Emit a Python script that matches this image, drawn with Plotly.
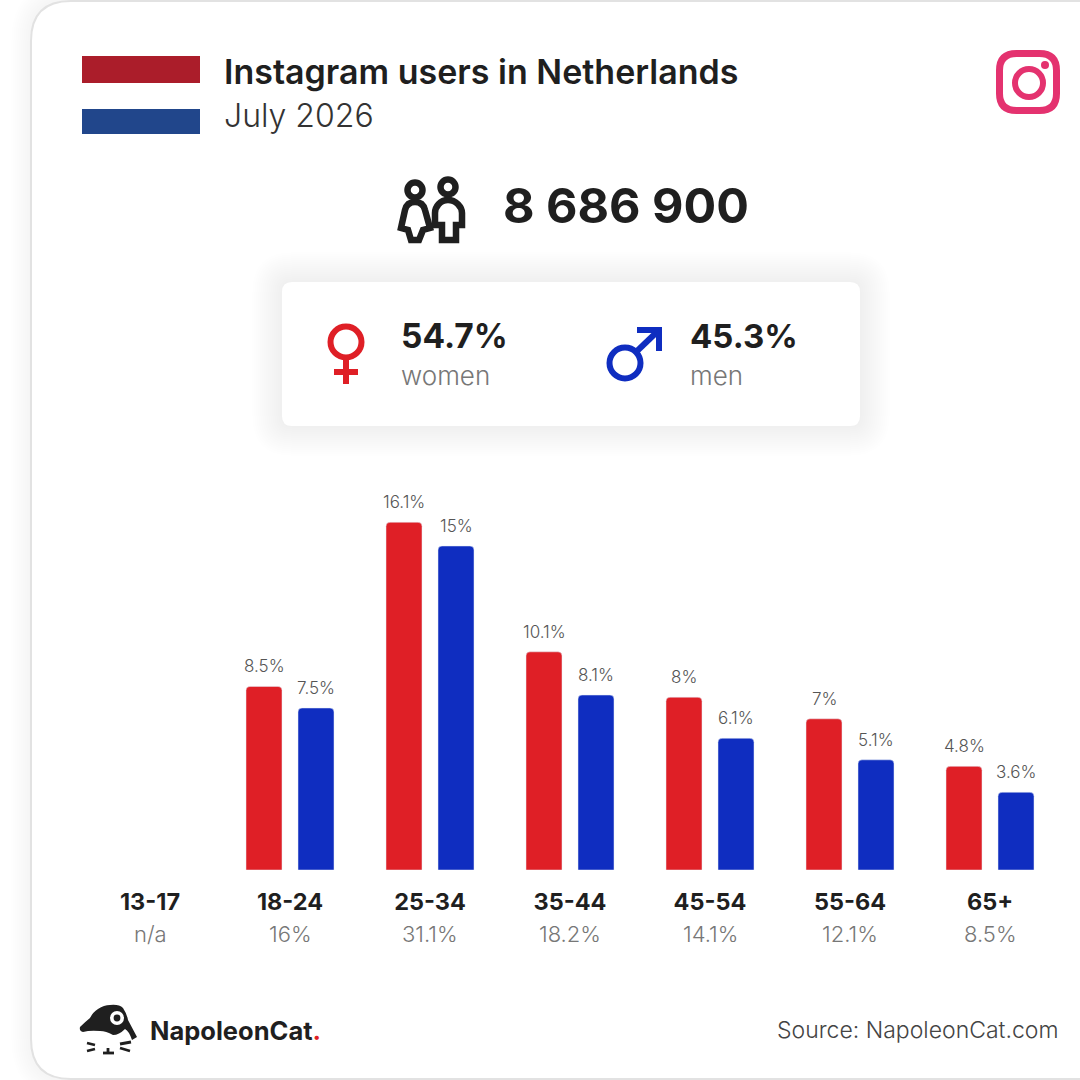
import plotly.graph_objects as go

# Values
age_groups = ["13-17", "18-24", "25-34", "35-44", "45-54", "55-64", "65+"]
women = [None, 8.5, 16.1, 10.1, 8, 7, 4.8]
men = [None, 7.5, 15, 8.1, 6.1, 5.1, 3.6]
age_totals = ["n/a", "16%", "31.1%", "18.2%", "14.1%", "12.1%", "8.5%"]

title = "Instagram users in Netherlands"
subtitle = "July 2026"
total_users = "8 686 900"
women_share = "54.7%"
men_share = "45.3%"

SIZE = 1080
RED = "#df1f26"
BLUE = "#0f2dc0"
DARK = "#1f1f1f"
GRAY = "#777777"
PINK = "#e4326f"
FONT = "Inter"


# Everything decorative is placed in pixels of the 1080x1080 picture
def px(x):
    return x / SIZE


def py(y):
    return 1 - y / SIZE


def path_from(points, close=True):
    cmds = []
    for item in points:
        cmd, coords = item[0], item[1:]
        pairs = [f"{px(coords[i])},{py(coords[i + 1])}" for i in range(0, len(coords), 2)]
        cmds.append(cmd + " " + " ".join(pairs))
    return " ".join(cmds) + (" Z" if close else "")


def round_rect(x0, y0, x1, y1, r):
    return path_from([
        ("M", x0 + r, y0), ("L", x1 - r, y0), ("Q", x1, y0, x1, y0 + r),
        ("L", x1, y1 - r), ("Q", x1, y1, x1 - r, y1), ("L", x0 + r, y1),
        ("Q", x0, y1, x0, y1 - r), ("L", x0, y0 + r), ("Q", x0, y0, x0 + r, y0),
    ])


shapes = []


def add_path(path, fill=None, line=None, width=0, layer="above"):
    shapes.append(dict(
        type="path", xref="paper", yref="paper", path=path, layer=layer,
        fillcolor=fill if fill else "rgba(0,0,0,0)",
        line=dict(color=line if line else "rgba(0,0,0,0)", width=width),
    ))


def add_rect(x0, y0, x1, y1, fill):
    shapes.append(dict(
        type="rect", xref="paper", yref="paper", x0=px(x0), x1=px(x1), y0=py(y0), y1=py(y1),
        fillcolor=fill, line=dict(width=0), layer="above",
    ))


def add_circle(cx, cy, r, fill=None, line=None, width=0):
    shapes.append(dict(
        type="circle", xref="paper", yref="paper",
        x0=px(cx - r), x1=px(cx + r), y0=py(cy + r), y1=py(cy - r),
        fillcolor=fill if fill else "rgba(0,0,0,0)",
        line=dict(color=line if line else "rgba(0,0,0,0)", width=width), layer="above",
    ))


def add_line(x0, y0, x1, y1, color, width):
    shapes.append(dict(
        type="line", xref="paper", yref="paper", x0=px(x0), x1=px(x1), y0=py(y0), y1=py(y1),
        line=dict(color=color, width=width), layer="above",
    ))


# card with soft shadow on the left
for grow in range(20, 0, -2):
    add_path(round_rect(31 - grow, 1 - grow, 1200, 1079 + grow, 40 + grow),
             fill="rgba(0,0,0,0.0022)", layer="below")
add_path(round_rect(31, 1, 1200, 1079, 40), fill="white", line="#e2e2e2", width=2, layer="below")

# white panel with shadow
for grow in range(30, 0, -2):
    add_path(round_rect(282 - grow, 282 - grow, 860 + grow, 426 + grow, 10 + grow),
             fill="rgba(0,0,0,0.0022)", layer="below")
add_path(round_rect(282, 282, 860, 426, 10), fill="white", layer="below")

# flag
add_rect(82, 56, 200, 83, "#ab1d2a")
add_rect(82, 109, 200, 134, "#21468b")

# instagram icon
add_path(round_rect(999.5, 53.5, 1056.5, 110.5, 17), line=PINK, width=7)
add_circle(1029, 83, 14, line=PINK, width=6)
add_circle(1045, 65, 4, fill=PINK)

# people icon
add_circle(415, 190, 7.5, line=DARK, width=6.5)
add_path(path_from([
    ("M", 415, 202), ("C", 409, 202, 406, 206, 405, 210), ("L", 401, 228), ("L", 408, 230),
    ("L", 411, 240), ("L", 419, 240), ("L", 423, 230), ("L", 430, 228), ("L", 425, 210),
    ("C", 424, 206, 421, 202, 415, 202),
]), line=DARK, width=6.5)
add_circle(448, 187, 7.5, line=DARK, width=6.5)
add_path(path_from([
    ("M", 448, 200), ("C", 440, 200, 435, 207, 435, 213), ("L", 435, 225), ("L", 442, 225),
    ("L", 442, 240), ("L", 456, 240), ("L", 456, 225), ("L", 462, 225), ("L", 462, 213),
    ("C", 462, 207, 456, 200, 448, 200),
]), line=DARK, width=6.5)

# female sign
add_circle(346, 342, 15.5, line=RED, width=6)
add_rect(343, 358, 349, 384, RED)
add_rect(334, 369, 358, 375, RED)

# male sign
add_circle(625, 363, 15.5, line=BLUE, width=6)
add_line(636, 352, 659, 330, BLUE, 6)
add_rect(637, 327, 662, 333, BLUE)
add_rect(656, 327, 662, 351, BLUE)

# cat logo
add_path(path_from([
    ("M", 80, 1027), ("Q", 85, 1022, 90, 1018), ("Q", 93, 1012, 98, 1009),
    ("Q", 104, 1005, 110, 1005), ("Q", 119, 1004, 123, 1008), ("Q", 127, 1014, 128, 1020),
    ("L", 137, 1037), ("L", 132, 1040), ("Q", 129, 1031, 125, 1029),
    ("Q", 119, 1035, 113, 1035), ("Q", 106, 1031, 100, 1031), ("Q", 90, 1030, 83, 1032),
    ("Q", 79, 1031, 80, 1027),
]), fill=DARK)
add_circle(117, 1018, 7, fill="white")
add_circle(117, 1018, 3.4, fill=DARK)
for whisker in [(87, 1043, 95, 1045), (87, 1051, 95, 1049), (120, 1044, 131, 1042),
                (120, 1048, 130, 1051), (103, 1053, 114, 1053), (108, 1048, 108, 1053)]:
    add_line(*whisker, DARK, 2.8)

annotations = []


def add_text(x, y, text, size, weight=400, color=DARK, anchor="left"):
    annotations.append(dict(
        xref="paper", yref="paper", x=px(x), y=py(y), text=text, showarrow=False,
        xanchor=anchor, yanchor="middle", borderpad=0,
        font=dict(family=FONT, size=size, color=color, weight=weight),
    ))


add_text(223, 71, title, 34, 600)
add_text(223, 115, subtitle, 32, 300, "#333333")
add_text(502, 205, total_users, 48.5, 700)
add_text(400, 336, women_share, 33.5, 700)
add_text(400, 376, "women", 26, 300, GRAY)
add_text(689, 336, men_share, 33, 700)
add_text(689, 376, "men", 26, 300, GRAY)
add_text(149, 1030, f'NapoleonCat<span style="color:{RED}">.</span>', 25.5, 700)
add_text(1059, 1030, "Source: NapoleonCat.com", 23, 300, "#444444", anchor="right")

# share of each age group under the tick labels
for group, share in zip(age_groups, age_totals):
    annotations.append(dict(
        xref="x", yref="paper", x=group, y=py(934), text=share, showarrow=False,
        xanchor="center", yanchor="middle",
        font=dict(family=FONT, size=22, color=GRAY, weight=300),
    ))

# value labels over the bars
for group, w, m in zip(age_groups, women, men):
    for value, shift in [(w, -26), (m, 26)]:
        if value is None:
            continue
        annotations.append(dict(
            xref="x", yref="y", x=group, y=value, text=f"{value:g}%", showarrow=False,
            xanchor="center", yanchor="middle", xshift=shift, yshift=20,
            font=dict(family=FONT, size=17, color="#555555", weight=300),
        ))

fig = go.Figure()
fig.add_trace(go.Bar(x=age_groups, y=women, name="women", marker_color=RED, hoverinfo="skip"))
fig.add_trace(go.Bar(x=age_groups, y=men, name="men", marker_color=BLUE, hoverinfo="skip"))

fig.update_layout(
    width=SIZE,
    height=SIZE,
    margin=dict(l=0, r=0, t=0, b=0),
    paper_bgcolor="white",
    plot_bgcolor="rgba(0,0,0,0)",
    showlegend=False,
    barmode="group",
    bargap=36 / 140,
    bargroupgap=16 / 52,
    barcornerradius=4,
    shapes=shapes,
    annotations=annotations,
    xaxis=dict(
        domain=[px(80), px(1060)],
        type="category",
        range=[-0.5, 6.5],
        categoryorder="array",
        categoryarray=age_groups,
        showgrid=False,
        zeroline=False,
        showline=False,
        ticks="outside",
        ticklen=11,
        tickcolor="rgba(0,0,0,0)",
        tickfont=dict(family=FONT, size=23.5, color=DARK, weight=700),
    ),
    yaxis=dict(
        domain=[py(870), py(438)],
        range=[0, 20],
        visible=False,
    ),
)

fig.write_html(
    "out.html",
    config=dict(displayModeBar=False),
    post_script="document.body.style.margin='0';document.body.style.overflow='hidden';",
)
